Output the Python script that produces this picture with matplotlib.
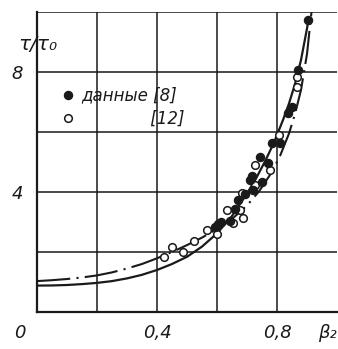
import matplotlib
matplotlib.use("Agg")
import matplotlib.pyplot as plt

# Curves
solid_x = [0, 0.05, 0.1, 0.15, 0.2, 0.25, 0.3, 0.35, 0.4, 0.45, 0.5, 0.55, 0.6, 0.65, 0.7,
           0.73, 0.76, 0.79, 0.82, 0.84, 0.86, 0.88, 0.9, 0.905]
solid_y = [0.88, 0.885, 0.9, 0.93, 0.97, 1.03, 1.12, 1.24, 1.40, 1.60, 1.84, 2.18, 2.62, 3.2, 3.95,
           4.45, 5.02, 5.65, 6.4, 6.95, 7.6, 8.4, 9.45, 9.75]
dd_x = [0, 0.05, 0.1, 0.15, 0.2, 0.25, 0.3, 0.35, 0.4, 0.45, 0.5, 0.55, 0.6, 0.65, 0.7,
        0.74, 0.78, 0.81, 0.84, 0.86, 0.88, 0.9, 0.915]
dd_y = [1.03, 1.06, 1.1, 1.15, 1.22, 1.32, 1.45, 1.6, 1.79, 2.0, 2.23, 2.48, 2.77, 3.1, 3.55,
        4.02, 4.62, 5.2, 5.95, 6.6, 7.4, 8.6, 10.0]

# Data [8] (filled)
filled_x = [0.593, 0.603, 0.613, 0.643, 0.66, 0.671, 0.693, 0.71, 0.716, 0.721, 0.743, 0.749, 0.771, 0.782, 0.81, 0.838, 0.849, 0.871, 0.904]
filled_y = [2.85, 2.95, 3.0, 3.05, 3.45, 3.73, 3.95, 4.4, 4.55, 4.07, 5.18, 4.34, 4.96, 5.62, 5.62, 6.62, 6.84, 8.07, 9.73]
# Data [12] (open)
open_x = [0.422, 0.45, 0.486, 0.522, 0.567, 0.6, 0.632, 0.654, 0.677, 0.688, 0.682, 0.727, 0.727, 0.777, 0.805, 0.866, 0.866]
open_y = [1.82, 2.18, 2.01, 2.38, 2.73, 2.59, 3.4, 2.96, 3.4, 3.12, 3.98, 4.23, 4.9, 4.73, 5.9, 7.5, 7.85]

x_ticks = [0.4, 0.8]
x_ticklabels = ["0,4", "0,8"]
y_ticks = [4, 8]
y_ticklabels = ["4", "8"]

fig = plt.figure(figsize=(3.38, 3.49), dpi=100)
ax = fig.add_axes([37/338, 1-312/349, 300/338, 300/349])
ax.set_xlim(0, 1.0)
ax.set_ylim(0, 10)

ink = "#1a1a1a"
for gx in [0.2, 0.4, 0.6, 0.8]:
    ax.axvline(gx, color=ink, lw=1.1, zorder=1)
for gy in [2, 4, 6, 8, 10]:
    ax.axhline(gy, color=ink, lw=1.1, zorder=1)

ax.plot(solid_x, solid_y, color=ink, lw=1.6, zorder=3, solid_joinstyle="round")
ax.plot(dd_x, dd_y, color=ink, lw=1.5, linestyle=(0, (16, 3, 1, 3)), zorder=3)

ax.plot(open_x, open_y, linestyle="none", marker="o", ms=5.5, mfc="white", mec=ink, mew=1.1, zorder=4,
        label="[12]")
ax.plot(filled_x, filled_y, linestyle="none", marker="o", ms=5.8, mfc=ink, mec=ink, zorder=5,
        label="данные [8]")

for s in ["top", "right"]:
    ax.spines[s].set_visible(False)
for s in ["left", "bottom"]:
    ax.spines[s].set_linewidth(1.6)
    ax.spines[s].set_color(ink)

fs = 13
ax.set_xticks(x_ticks)
ax.set_xticklabels(x_ticklabels, fontsize=fs, style="italic", color=ink)
ax.set_yticks(y_ticks)
ax.set_yticklabels(y_ticklabels, fontsize=fs, style="italic", color=ink)
ax.tick_params(axis="x", length=0, pad=9)
ax.tick_params(axis="y", length=0, pad=10)

ax.text(-0.057, -0.07, "0", transform=ax.transAxes, fontsize=fs, style="italic", color=ink,
        ha="center", va="center")
ax.text(0.967, -0.07, "β₂", transform=ax.transAxes, fontsize=fs, style="italic", color=ink,
        ha="center", va="center")
ax.text(0.003, 0.893, "τ/τ₀", transform=ax.transAxes, fontsize=14.5, style="italic", color=ink,
        ha="center", va="center")

h, l = ax.get_legend_handles_labels()
leg = ax.legend([h[1], h[0]], ["данные [8]", "             [12]"], loc="upper left",
                bbox_to_anchor=(0.035, 0.79), frameon=False, handletextpad=0.35,
                handlelength=1.0, borderpad=0.2, labelspacing=0.3,
                prop={"size": 12, "style": "italic"})
for t in leg.get_texts():
    t.set_color(ink)

fig.savefig("out.png", dpi=100, facecolor="white")
